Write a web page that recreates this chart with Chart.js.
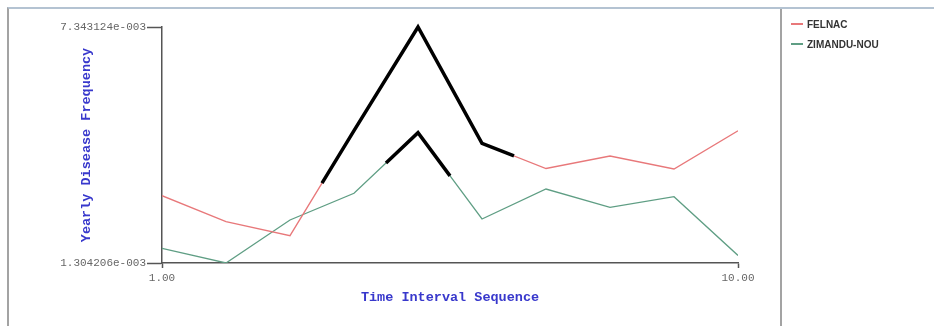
<!DOCTYPE html>
<html lang="en">
<head>
<meta charset="UTF-8">
<title>Yearly Disease Frequency</title>
<script src="https://cdn.jsdelivr.net/npm/chart.js@4.4.1/dist/chart.umd.min.js"></script>
<style>
  html, body { margin: 0; padding: 0; background: #fff; }
  #wrap { position: relative; width: 934px; height: 326px; overflow: hidden; background: #fff; }
  #frame { position: absolute; left: 7px; top: 7px; right: 0; bottom: 0; border-left: 2px solid #a3a3a3; border-top: 2px solid #b4c3d2; }
  #sep { position: absolute; left: 780px; top: 9px; bottom: 0; width: 2px; background: #a3a3a3; }
  canvas { position: absolute; left: 0; top: 0; }
  #legend { position: absolute; left: 791px; top: 14px; font: bold 10px "Liberation Sans", Arial, sans-serif; color: #333; }
  #legend div { height: 20px; display: flex; align-items: center; }
  #legend span.sw { display: inline-block; width: 12px; height: 1.5px; margin-right: 4px; }
</style>
</head>
<body>
<div id="wrap">
  <div id="frame"></div>
  <canvas id="chart" width="934" height="326"></canvas>
  <div id="sep"></div>
  <div id="legend"></div>
</div>

<script>
// time interval sequence (x) and yearly frequencies per village
const intervals = [1, 2, 3, 4, 5, 6, 7, 8, 9, 10];
const felnac = [3.0263e-3, 2.3610e-3, 2.0028e-3, 4.6900e-3, 7.343124e-3, 4.3671e-3, 3.7223e-3, 4.0422e-3, 3.7095e-3, 4.6896e-3];
const zimanduNou = [1.6804e-3, 1.304206e-3, 2.4045e-3, 3.0877e-3, 4.6384e-3, 2.4301e-3, 3.1977e-3, 2.7295e-3, 3.0007e-3, 1.4961e-3];

// stretches of each line drawn in bold black (from, to on the interval axis)
const felnacPeak = [3.5, 6.5];
const zimanduPeak = [4.5, 5.5];

const seriesNames = ['FELNAC', 'ZIMANDU-NOU'];
const xTicks = [1, 10];
const xTickLabels = ['1.00', '10.00'];
const yTicks = [1.304206e-3, 7.343124e-3];
const yTickLabels = ['1.304206e-003', '7.343124e-003'];

const RED = '#e8787a';
const GREEN = '#5f9e84';

// take the part of a polyline between two x positions
function stretch(xs, ys, from, to) {
    const at = x => {
        for (let i = 0; i < xs.length - 1; i++) {
            if (x >= xs[i] && x <= xs[i + 1]) {
                const t = (x - xs[i]) / (xs[i + 1] - xs[i]);
                return ys[i] + t * (ys[i + 1] - ys[i]);
            }
        }
        return null;
    };
    const pts = [{x: from, y: at(from)}];
    xs.forEach((x, i) => { if (x > from && x < to) pts.push({x: x, y: ys[i]}); });
    pts.push({x: to, y: at(to)});
    return pts;
}

const toPts = ys => intervals.map((x, i) => ({x: x, y: ys[i]}));

const legend = document.getElementById('legend');
[RED, GREEN].forEach((c, i) => {
    const row = document.createElement('div');
    row.innerHTML = '<span class="sw" style="background:' + c + '"></span>' + seriesNames[i];
    legend.appendChild(row);
});

const tickFont = {family: '"Liberation Mono", "Courier New", monospace', size: 11};
const titleFont = {family: '"Liberation Mono", "Courier New", monospace', size: 13.5, weight: 'bold'};

new Chart(document.getElementById('chart'), {
    type: 'line',
    data: {
        datasets: [
            {label: seriesNames[0], data: toPts(felnac), borderColor: RED, borderWidth: 1.3, pointRadius: 0, tension: 0, order: 2},
            {label: seriesNames[1], data: toPts(zimanduNou), borderColor: GREEN, borderWidth: 1.3, pointRadius: 0, tension: 0, order: 2},
            {label: 'peak1', data: stretch(intervals, felnac, felnacPeak[0], felnacPeak[1]), borderColor: '#000', borderWidth: 3.5, pointRadius: 0, tension: 0, clip: false, order: 0},
            {label: 'peak2', data: stretch(intervals, zimanduNou, zimanduPeak[0], zimanduPeak[1]), borderColor: '#000', borderWidth: 3.5, pointRadius: 0, tension: 0, clip: false, order: 0}
        ]
    },
    options: {
        responsive: false,
        animation: false,
        events: [],
        layout: {padding: {left: 0, top: 27, right: 196, bottom: 0}},
        plugins: {legend: {display: false}, tooltip: {enabled: false}},
        scales: {
            x: {
                type: 'linear',
                min: xTicks[0],
                max: xTicks[1],
                afterBuildTicks: s => { s.ticks = xTicks.map(v => ({value: v})); },
                afterFit: s => { s.height = 63; },
                ticks: {
                    font: tickFont, color: '#666', padding: 3, maxRotation: 0, autoSkip: false,
                    callback: (v) => xTickLabels[xTicks.indexOf(v)]
                },
                grid: {drawOnChartArea: false, tickLength: 5, tickColor: '#555', tickWidth: 1.5},
                border: {color: '#555', width: 1.5},
                title: {display: true, text: 'Time Interval Sequence', font: titleFont, color: '#3838cc', padding: {top: 0, bottom: 20}}
            },
            y: {
                min: yTicks[0],
                max: yTicks[1],
                afterBuildTicks: s => { s.ticks = yTicks.map(v => ({value: v})); },
                afterFit: s => { s.width = 162; },
                ticks: {
                    font: tickFont, color: '#666', padding: 1, autoSkip: false,
                    callback: (v) => yTickLabels[yTicks.indexOf(v)]
                },
                grid: {drawOnChartArea: false, tickLength: 15, tickColor: '#555', tickWidth: 1.5},
                border: {color: '#555', width: 1.5},
                title: {display: true, text: 'Yearly Disease Frequency', font: titleFont, color: '#3838cc', padding: {top: 78, bottom: 0}}
            }
        }
    }
});
</script>
</body>
</html>
